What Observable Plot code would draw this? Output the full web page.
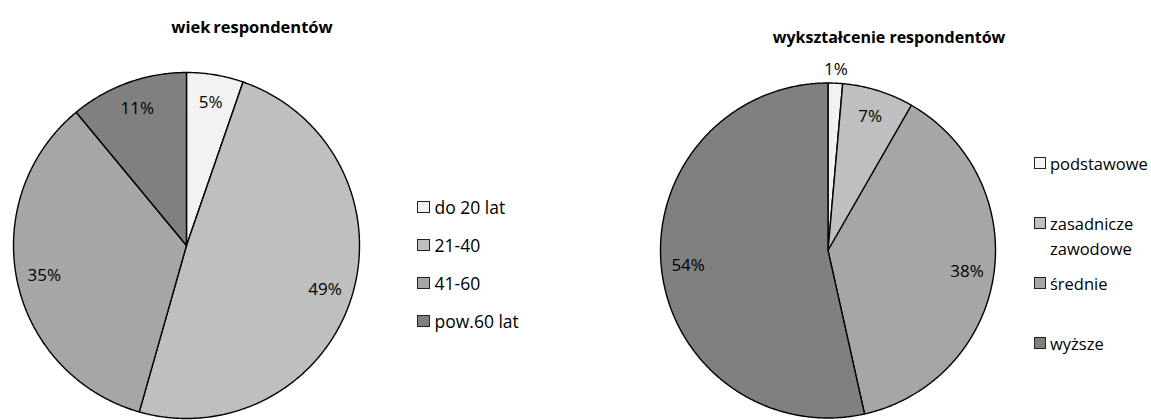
<!DOCTYPE html>
<html>
<head>
<meta charset="utf-8">
<script src="https://cdn.jsdelivr.net/npm/d3@7"></script>
<script src="https://cdn.jsdelivr.net/npm/@observablehq/plot@0.6"></script>
<style>
  html, body { margin: 0; padding: 0; background: #fff; }
  #root { position: relative; width: 1151px; height: 420px; overflow: hidden; font-family: "Open Sans", sans-serif; color: #000; }
  .panel { position: absolute; top: 0; height: 420px; }
  .panel svg { position: absolute; left: 0; top: 0; overflow: visible; }
  .title { position: absolute; font-weight: bold; white-space: nowrap; transform: translate(-50%, -50%); }
  .legend { position: absolute; }
  .item { display: flex; align-items: flex-start; }
  .sw { flex: none; box-sizing: border-box; border: 1.5px solid #222; }
</style>
</head>
<body>
<div id="root"></div>
<script>
// ---- data ----
const ageTitle = "wiek respondentów";
const ageCategories = ["do 20 lat", "21-40", "41-60", "pow.60 lat"];
const ageValues = [5.3, 49.1, 34.6, 11.0];

const eduTitle = "wykształcenie respondentów";
const eduCategories = ["podstawowe", "zasadnicze zawodowe", "średnie", "wyższe"];
const eduLegendLabels = [["podstawowe"], ["zasadnicze", "zawodowe"], ["średnie"], ["wyższe"]];
const eduValues = [1.4, 6.9, 38.2, 53.5];

const greys = ["#f2f2f2", "#bfbfbf", "#a6a6a6", "#808080"];

// ---- helpers ----
function slicePolygons(cats, vals) {
  const total = d3.sum(vals);
  const pts = [];
  const labels = [];
  let acc = 0;
  cats.forEach((c, i) => {
    const a0 = acc / total * 2 * Math.PI;
    acc += vals[i];
    const a1 = acc / total * 2 * Math.PI;
    pts.push({cat: c, x: 0, y: 0});
    const n = Math.max(2, Math.ceil((a1 - a0) / (Math.PI / 360)));
    for (let k = 0; k <= n; k++) {
      const a = a0 + (a1 - a0) * k / n;
      pts.push({cat: c, x: Math.sin(a), y: Math.cos(a)});
    }
    const am = (a0 + a1) / 2;
    const share = vals[i] / total * 100;
    const lr = share < 3 ? 1.08 : 0.84;
    labels.push({cat: c, x: lr * Math.sin(am), y: lr * Math.cos(am), text: Math.round(share) + "%"});
  });
  return {pts, labels};
}

function pie(cats, vals, {width, height, margin}) {
  const {pts, labels} = slicePolygons(cats, vals);
  return Plot.plot({
    width, height,
    marginLeft: margin[0], marginRight: margin[1], marginTop: margin[2], marginBottom: margin[3],
    x: {domain: [-1, 1], axis: null},
    y: {domain: [-1, 1], axis: null},
    color: {domain: cats, range: greys},
    style: {fontFamily: "Open Sans", fontSize: "17px", background: "transparent", overflow: "visible"},
    marks: [
      Plot.line(pts, {x: "x", y: "y", z: "cat", fill: "cat", stroke: "#000", strokeWidth: 1.4, curve: "linear-closed"}),
      Plot.text(labels, {x: "x", y: "y", text: "text", fill: "#000", fontSize: 17})
    ]
  });
}

function legend(labelsList, {left, top, rowHeight, lineHeight, sw, gap, fontSize}) {
  const div = document.createElement("div");
  div.className = "legend";
  div.style.left = left + "px";
  div.style.top = top + "px";
  labelsList.forEach((lines, i) => {
    const it = document.createElement("div");
    it.className = "item";
    it.style.height = rowHeight + "px";
    const s = document.createElement("div");
    s.className = "sw";
    s.style.width = sw + "px";
    s.style.height = sw + "px";
    s.style.marginTop = ((lineHeight - sw) / 2) + "px";
    s.style.marginRight = gap + "px";
    s.style.background = greys[i];
    const t = document.createElement("div");
    t.style.fontSize = fontSize + "px";
    t.style.lineHeight = lineHeight + "px";
    t.innerHTML = lines.map(l => `<div>${l}</div>`).join("");
    it.appendChild(s); it.appendChild(t);
    div.appendChild(it);
  });
  return div;
}

const root = document.getElementById("root");

// left panel
const left = document.createElement("div");
left.className = "panel"; left.style.left = "0px"; left.style.width = "576px";
left.appendChild(pie(ageCategories, ageValues, {width: 576, height: 420, margin: [13, 217, 72, 2]}));
const t1 = document.createElement("div");
t1.className = "title"; t1.textContent = ageTitle;
t1.style.left = "252px"; t1.style.top = "26px"; t1.style.fontSize = "16.5px"; t1.style.wordSpacing = "-1.5px";
left.appendChild(t1);
left.appendChild(legend(ageCategories.map(c => [c]), {left: 417, top: 193, rowHeight: 38, lineHeight: 28, sw: 12.5, gap: 5, fontSize: 17.5}));
root.appendChild(left);

// right panel
const right = document.createElement("div");
right.className = "panel"; right.style.left = "576px"; right.style.width = "575px";
right.appendChild(pie(eduCategories, eduValues, {width: 575, height: 420, margin: [84, 156, 82.5, 2.5]}));
const t2 = document.createElement("div");
t2.className = "title"; t2.textContent = eduTitle;
t2.style.left = "313px"; t2.style.top = "37px"; t2.style.fontSize = "16px";
right.appendChild(t2);
right.appendChild(legend(eduLegendLabels, {left: 458, top: 150.5, rowHeight: 60, lineHeight: 25, sw: 11.5, gap: 4.5, fontSize: 16.5}));
root.appendChild(right);
</script>
</body>
</html>
